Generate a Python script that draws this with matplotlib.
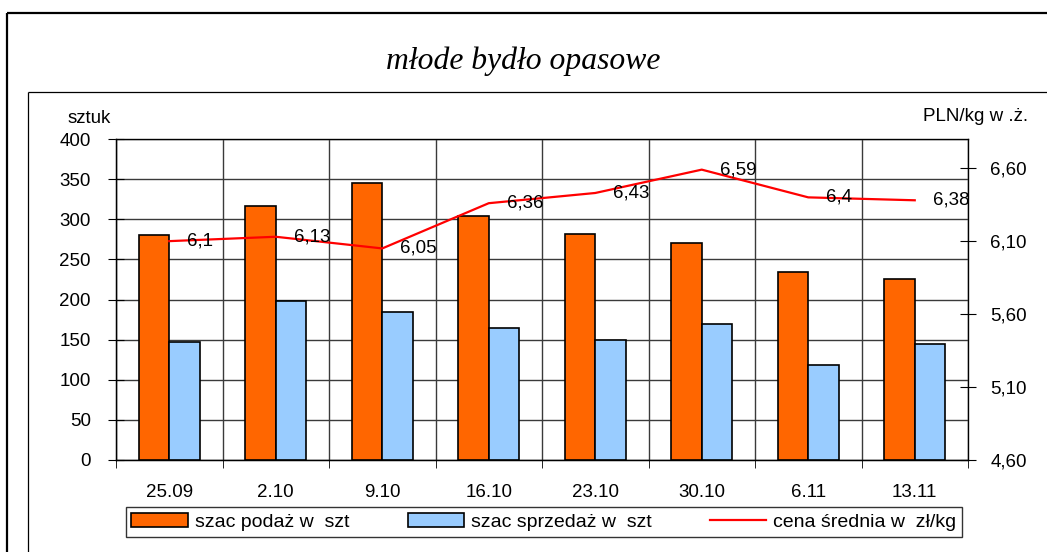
import matplotlib
matplotlib.use("Agg")
import matplotlib.pyplot as plt
from matplotlib.lines import Line2D
import numpy as np

categories = ["25.09", "2.10", "9.10", "16.10", "23.10", "30.10", "6.11", "13.11"]
podaz = [280, 317, 345, 304, 282, 270, 234, 225]
sprzedaz = [147, 198, 184, 164, 150, 169, 118, 145]
cena = [6.10, 6.13, 6.05, 6.36, 6.43, 6.59, 6.40, 6.38]
cena_labels = ["6,1", "6,13", "6,05", "6,36", "6,43", "6,59", "6,4", "6,38"]
left_ticks = [0, 50, 100, 150, 200, 250, 300, 350, 400]
right_ticks = [4.60, 5.10, 5.60, 6.10, 6.60]

W, H = 1047, 552
FS = 13.5
fig = plt.figure(figsize=(W / 100, H / 100), dpi=100)
plt.rcParams['font.family'] = ['Liberation Sans', 'DejaVu Sans']

# frames
def fl(x0, y0, x1, y1, lw):
    fig.add_artist(Line2D([x0 / W, x1 / W], [1 - y0 / H, 1 - y1 / H], color='black', lw=lw,
                          transform=fig.transFigure, solid_capstyle='butt'))
fl(7, 13, 1047, 13, 1.6)
fl(7, 13, 7, 552, 1.6)
fl(28, 92, 1047, 92, 0.9)
fl(28, 92, 28, 552, 0.9)

ax = fig.add_axes([116 / W, 1 - 460 / H, (968 - 116) / W, (460 - 139) / H])
x = np.arange(len(categories))
bw = 0.285
b1 = ax.bar(x - bw / 2, podaz, bw, color='#ff6600', edgecolor='black', linewidth=1.2, zorder=3,
            label='szac podaż w  szt')
b2 = ax.bar(x + bw / 2, sprzedaz, bw, color='#99ccff', edgecolor='black', linewidth=1.2, zorder=3,
            label='szac sprzedaż w  szt')
ax.set_xlim(-0.5, len(categories) - 0.5)
ax.set_ylim(0, 400)
ax.set_yticks(left_ticks)
ax.set_yticklabels([str(t) for t in left_ticks], fontsize=FS)
ax.set_xticks(x)
ax.set_xticklabels(categories, fontsize=FS)
ax.set_xticks(np.arange(-0.5, len(categories)), minor=True)
ax.tick_params(axis='x', which='major', length=0, pad=17)
ax.tick_params(axis='x', which='minor', length=6, direction='out', color='black')
ax.tick_params(axis='y', which='major', length=12, direction='inout', pad=12, color='black')
ax.grid(True, axis='y', which='major', color='#3a3a3a', lw=1.0, zorder=1)
ax.grid(True, axis='x', which='minor', color='#3a3a3a', lw=1.0, zorder=1)
for s in ['top', 'right', 'bottom', 'left']:
    ax.spines[s].set_color('#555555')
    ax.spines[s].set_linewidth(1.0)
ax.spines['left'].set_color('black')
ax.spines['bottom'].set_color('black')

ax2 = ax.twinx()
ln, = ax2.plot(x, cena, color='#ff0000', lw=1.6, zorder=4, label='cena średnia w  zł/kg')
ax2.set_ylim(4.6, 6.8)
ax2.set_yticks(right_ticks)
ax2.set_yticklabels([f"{t:.2f}".replace('.', ',') for t in right_ticks], fontsize=FS)
ax2.tick_params(axis='y', length=12, direction='inout', pad=10, color='black')
ax2.spines['right'].set_color('black')
for xi, yi, lab in zip(x, cena, cena_labels):
    ax2.annotate(lab, (xi, yi), xytext=(13, 0), textcoords='offset points',
                 ha='left', va='center', fontsize=FS, zorder=5)

fig.text(68 / W, 1 - 118 / H, 'sztuk', ha='left', va='center', fontsize=FS)
fig.text(1028 / W, 1 - 117 / H, 'PLN/kg w .ż.', ha='right', va='center', fontsize=FS)
fig.text(0.5, 1 - 61 / H, 'młode bydło opasowe', ha='center', va='center',
         family='Liberation Serif', style='italic', fontsize=22.8)

leg = fig.legend([b1, b2, ln], [b1.get_label(), b2.get_label(), ln.get_label()],
                 loc='center', bbox_to_anchor=(544 / W, 1 - 522 / H), ncol=3,
                 fontsize=14, frameon=True, fancybox=False, edgecolor='black',
                 handlelength=2.9, handleheight=0.67, handletextpad=0.36, columnspacing=3.0,
                 borderpad=0.3, borderaxespad=0)
leg.get_frame().set_linewidth(1.0)

fig.savefig('out.png', dpi=100)
